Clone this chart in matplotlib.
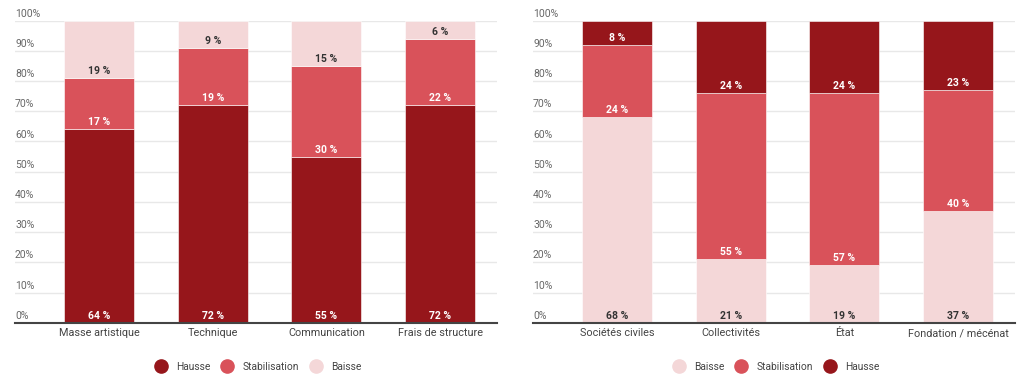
import matplotlib
import numpy as np

matplotlib.use("Agg")
import matplotlib.pyplot as plt
from matplotlib.lines import Line2D

plt.rcParams["font.family"] = ["Roboto", "DejaVu Sans"]

# left chart: postes de dépenses
cats_left = ["Masse artistique", "Technique", "Communication", "Frais de structure"]
hausse_left = [64, 72, 55, 72]
stab_left = [17, 19, 30, 22]
baisse_left = [19, 9, 15, 6]

# right chart: financeurs
cats_right = ["Sociétés civiles", "Collectivités", "État", "Fondation / mécénat"]
baisse_right = [68, 21, 19, 37]
stab_right = [24, 55, 57, 40]
hausse_right = [8, 24, 24, 23]

yticks = [0, 10, 20, 30, 40, 50, 60, 70, 80, 90, 100]

DARK = "#96161B"
MID = "#D9525A"
LIGHT = "#F4D7D8"
colors = {"Hausse": DARK, "Stabilisation": MID, "Baisse": LIGHT}
text_colors = {"Hausse": "white", "Stabilisation": "white", "Baisse": "#333333"}


def draw(ax, cats, series):
    x = np.arange(len(cats))
    bottom = np.zeros(len(cats))
    for name, vals in series:
        vals = np.array(vals, dtype=float)
        ax.bar(x, vals, bottom=bottom, width=0.616, color=colors[name],
               edgecolor="white", linewidth=0.4, zorder=2)
        for xi, b, v in zip(x, bottom, vals):
            ax.annotate(f"{int(v)} %", (xi, b), xytext=(0, 5), textcoords="offset points",
                        ha="center", va="center", fontsize=7.5, fontweight="bold",
                        color=text_colors[name], zorder=3)
        bottom += vals

    ax.set_xlim(-0.74, 3.5)
    ax.set_ylim(0, 100)
    ax.set_xticks(x)
    ax.set_xticklabels(cats, fontsize=7.8, color="#444444")
    ax.tick_params(axis="x", length=0, pad=4)
    ax.set_yticks([])
    for t in yticks:
        if t > 0:
            ax.axhline(t, color="#e8e8e8", lw=1, zorder=1)
        ax.annotate(f"{t}%", (0, t), xycoords=ax.get_yaxis_transform(),
                    xytext=(0, 5), textcoords="offset points",
                    ha="left", va="center", fontsize=7.5, color="#666666")
    for s in ["top", "right", "left"]:
        ax.spines[s].set_visible(False)
    ax.spines["bottom"].set_color("#444444")
    ax.spines["bottom"].set_linewidth(1.5)
    ax.spines["bottom"].set_zorder(4)


def legend(fig, ax, names):
    handles = [Line2D([], [], marker="o", ls="none", markersize=9.5,
                      markerfacecolor=colors[n], markeredgecolor=colors[n]) for n in names]
    box = ax.get_position()
    fig.legend(handles, names, loc="center", ncol=3, frameon=False, fontsize=7.4,
               labelcolor="#444444", handletextpad=0.5, columnspacing=0.6,
               bbox_to_anchor=((box.x0 + box.x1) / 2, 1 - 367 / 388))


fig = plt.figure(figsize=(10.24, 3.88), dpi=100)
ax1 = fig.add_axes([15 / 1024, 0.168, 482 / 1024, 0.779])
ax2 = fig.add_axes([533 / 1024, 0.168, 482 / 1024, 0.779])

draw(ax1, cats_left, [("Hausse", hausse_left), ("Stabilisation", stab_left), ("Baisse", baisse_left)])
draw(ax2, cats_right, [("Baisse", baisse_right), ("Stabilisation", stab_right), ("Hausse", hausse_right)])

legend(fig, ax1, ["Hausse", "Stabilisation", "Baisse"])
legend(fig, ax2, ["Baisse", "Stabilisation", "Hausse"])

fig.savefig("out.png", dpi=100)
